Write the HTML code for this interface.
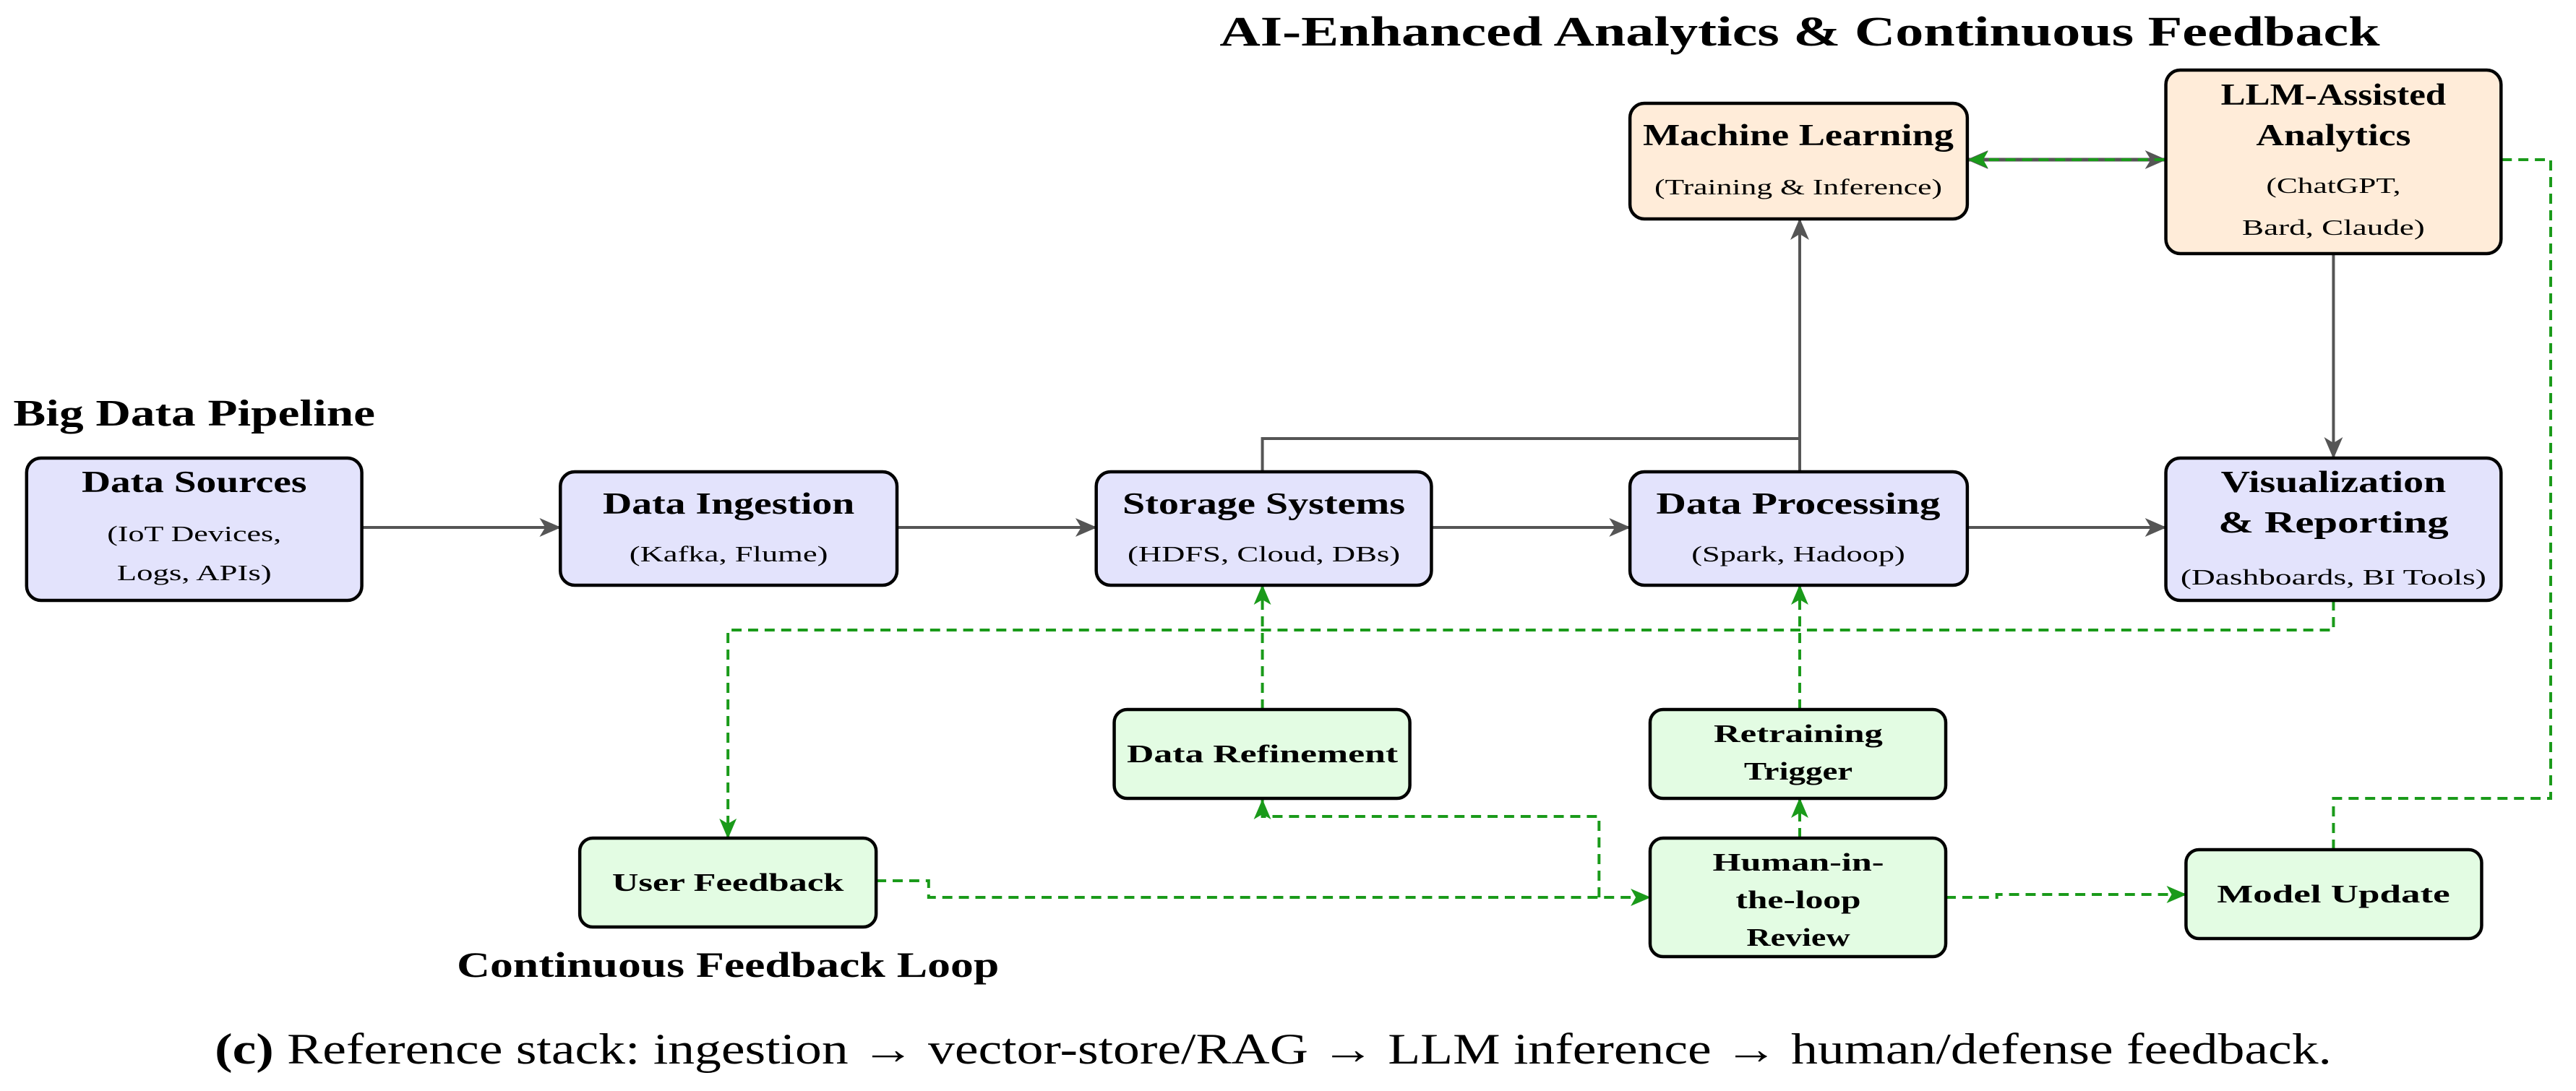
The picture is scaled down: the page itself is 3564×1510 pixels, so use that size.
<!DOCTYPE html>
<html><head><meta charset="utf-8"><style>
html,body{margin:0;padding:0;background:#fff;}
svg{display:block;}
text{font-family:"Liberation Serif",serif;fill:#000;}
.t{font-weight:bold;font-size:42px;}
.s{font-size:31px;}
.g{font-weight:bold;font-size:35px;}
.box{stroke:#000;stroke-width:4.5;}
.gray{stroke:#555;stroke-width:4;fill:none;}
.grn{stroke:#1a9a1a;stroke-width:4;fill:none;stroke-dasharray:14 9;}
</style></head><body>
<svg width="3564" height="1510" viewBox="0 0 3564 1510" xmlns="http://www.w3.org/2000/svg">
<defs>
<marker id="ag2" markerWidth="30" markerHeight="26" refX="29" refY="13" orient="auto-start-reverse" markerUnits="userSpaceOnUse" viewBox="0 0 30 26">
<path d="M0,0 L30,13 L0,26 L8,13 Z" fill="#555"/></marker>
<marker id="gr" markerWidth="28" markerHeight="24" refX="27" refY="12" orient="auto" markerUnits="userSpaceOnUse" viewBox="0 0 28 24">
<path d="M0,0 L28,12 L0,24 L7,12 Z" fill="#1a9a1a"/></marker>
</defs>
<g transform="translate(0,-3) scale(0.9952,1)">

<text x="2502" y="66" text-anchor="middle" textLength="1613" lengthAdjust="spacingAndGlyphs" style="font-weight:bold;font-size:58px">AI-Enhanced Analytics &amp; Continuous Feedback</text>
<text x="270" y="592" text-anchor="middle" textLength="503" lengthAdjust="spacingAndGlyphs" style="font-weight:bold;font-size:52px">Big Data Pipeline</text>
<text x="1012" y="1355" text-anchor="middle" textLength="754" lengthAdjust="spacingAndGlyphs" style="font-weight:bold;font-size:50px">Continuous Feedback Loop</text>
<text x="1770" y="1475" text-anchor="middle" textLength="2943" lengthAdjust="spacingAndGlyphs" style="font-size:60px"><tspan style="font-weight:bold">(c)</tspan> Reference stack: ingestion → vector-store/RAG → LLM inference → human/defense feedback.</text>

<g class="gray">
<path d="M503,733 L779,733" marker-end="url(#ag2)"/>
<path d="M1247,733 L1524,733" marker-end="url(#ag2)"/>
<path d="M1990,733 L2266,733" marker-end="url(#ag2)"/>
<path d="M2735,733 L3011,733" marker-end="url(#ag2)"/>
<path d="M1755,656 L1755,610 L2502,610"/>
<path d="M2502,656 L2502,306" marker-end="url(#ag2)"/>
<path d="M3244,354 L3244,637" marker-end="url(#ag2)"/>
<path d="M2735,224 L3011,224" marker-end="url(#ag2)" marker-start="url(#ag2)" stroke-width="5"/>
</g>

<g class="grn">
<path d="M3244,1179 L3244,1108 L3546,1108 L3546,224 L2737,224" marker-end="url(#gr)"/>
<path d="M3244,834 L3244,875 L1012,875 L1012,1163" marker-end="url(#gr)"/>
<path d="M1755,985 L1755,813" marker-end="url(#gr)"/>
<path d="M2502,985 L2502,813" marker-end="url(#gr)"/>
<path d="M2502,1163 L2502,1108" marker-end="url(#gr)"/>
<path d="M1218,1222 L1291,1222 L1291,1245 L2294,1245" marker-end="url(#gr)"/>
<path d="M2223,1245 L2223,1133 L1755,1133 L1755,1110" marker-end="url(#gr)"/>
<path d="M2705,1245 L2776,1245 L2776,1241 L3039,1241" marker-end="url(#gr)"/>
</g>

<g fill="#e3e3fc" class="box">
<rect x="37" y="637" width="466" height="197" rx="20"/>
<rect x="779" y="656" width="468" height="157" rx="20"/>
<rect x="1524" y="656" width="466" height="157" rx="20"/>
<rect x="2266" y="656" width="469" height="157" rx="20"/>
<rect x="3011" y="637" width="466" height="197" rx="20"/>
</g>
<g fill="#ffecd9" class="box">
<rect x="2266" y="146" width="469" height="160" rx="20"/>
<rect x="3011" y="100" width="466" height="254" rx="20"/>
</g>
<g fill="#e3fce3" class="box">
<rect x="1549" y="985" width="411" height="123" rx="18"/>
<rect x="2294" y="985" width="411" height="123" rx="18"/>
<rect x="806" y="1163" width="412" height="123" rx="18"/>
<rect x="2294" y="1163" width="411" height="164" rx="18"/>
<rect x="3039" y="1179" width="411" height="123" rx="18"/>
</g>

<text class="t" x="270" y="684" text-anchor="middle" textLength="313" lengthAdjust="spacingAndGlyphs">Data Sources</text>
<text class="s" x="270" y="752" text-anchor="middle" textLength="242" lengthAdjust="spacingAndGlyphs">(IoT Devices,</text>
<text class="s" x="270" y="806" text-anchor="middle" textLength="215" lengthAdjust="spacingAndGlyphs">Logs, APIs)</text>

<text class="t" x="1013" y="714" text-anchor="middle" textLength="350" lengthAdjust="spacingAndGlyphs">Data Ingestion</text>
<text class="s" x="1013" y="780" text-anchor="middle" textLength="276" lengthAdjust="spacingAndGlyphs">(Kafka, Flume)</text>

<text class="t" x="1757" y="714" text-anchor="middle" textLength="393" lengthAdjust="spacingAndGlyphs">Storage Systems</text>
<text class="s" x="1757" y="780" text-anchor="middle" textLength="379" lengthAdjust="spacingAndGlyphs">(HDFS, Cloud, DBs)</text>

<text class="t" x="2500" y="714" text-anchor="middle" textLength="395" lengthAdjust="spacingAndGlyphs">Data Processing</text>
<text class="s" x="2500" y="780" text-anchor="middle" textLength="297" lengthAdjust="spacingAndGlyphs">(Spark, Hadoop)</text>

<text class="t" x="3244" y="684" text-anchor="middle" textLength="313" lengthAdjust="spacingAndGlyphs">Visualization</text>
<text class="t" x="3244" y="740" text-anchor="middle" textLength="320" lengthAdjust="spacingAndGlyphs">&amp; Reporting</text>
<text class="s" x="3244" y="812" text-anchor="middle" textLength="425" lengthAdjust="spacingAndGlyphs">(Dashboards, BI Tools)</text>

<text class="t" x="2500" y="204" text-anchor="middle" textLength="432" lengthAdjust="spacingAndGlyphs">Machine Learning</text>
<text class="s" x="2500" y="272" text-anchor="middle" textLength="400" lengthAdjust="spacingAndGlyphs">(Training &amp; Inference)</text>

<text class="t" x="3244" y="148" text-anchor="middle" textLength="313" lengthAdjust="spacingAndGlyphs">LLM-Assisted</text>
<text class="t" x="3244" y="204" text-anchor="middle" textLength="215" lengthAdjust="spacingAndGlyphs">Analytics</text>
<text class="s" x="3244" y="270" text-anchor="middle" textLength="187" lengthAdjust="spacingAndGlyphs">(ChatGPT,</text>
<text class="s" x="3244" y="328" text-anchor="middle" textLength="254" lengthAdjust="spacingAndGlyphs">Bard, Claude)</text>

<text class="g" x="1755" y="1058" text-anchor="middle" textLength="377" lengthAdjust="spacingAndGlyphs">Data Refinement</text>
<text class="g" x="2500" y="1030" text-anchor="middle" textLength="235" lengthAdjust="spacingAndGlyphs">Retraining</text>
<text class="g" x="2500" y="1082" text-anchor="middle" textLength="151" lengthAdjust="spacingAndGlyphs">Trigger</text>
<text class="g" x="1012" y="1236" text-anchor="middle" textLength="322" lengthAdjust="spacingAndGlyphs">User Feedback</text>
<text class="g" x="2500" y="1208" text-anchor="middle" textLength="238" lengthAdjust="spacingAndGlyphs">Human-in-</text>
<text class="g" x="2500" y="1260" text-anchor="middle" textLength="174" lengthAdjust="spacingAndGlyphs">the-loop</text>
<text class="g" x="2500" y="1312" text-anchor="middle" textLength="144" lengthAdjust="spacingAndGlyphs">Review</text>
<text class="g" x="3244" y="1252" text-anchor="middle" textLength="324" lengthAdjust="spacingAndGlyphs">Model Update</text>
</g>
</svg>
</body></html>
